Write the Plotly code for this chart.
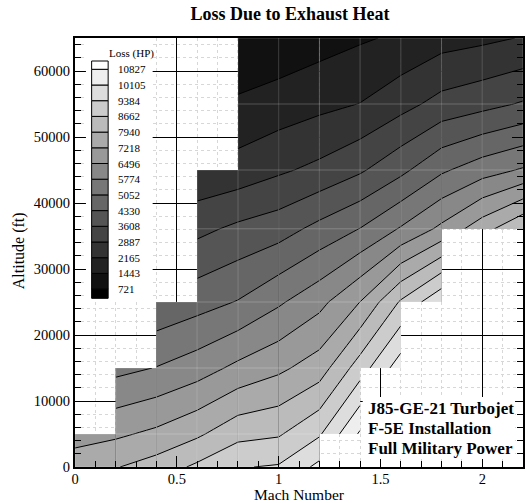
import plotly.graph_objects as go

# ---------------- data ----------------
mach = [0.0, 0.2, 0.4, 0.6, 0.8, 1.0, 1.2, 1.4, 1.6, 1.8, 2.0, 2.2]
alt = [0, 5000, 15000, 25000, 36089, 45000, 55000, 65000]
N = None
# Loss (HP) at grid nodes: rows = altitude, cols = Mach
loss = [
    [7690, 7900, 8263, 8800, 9339, 9450, 10295, N, N, N, N, N],
    [6870, 7090, 7378, 7815, 8440, 8582, 9294, 10930, N, N, N, N],
    [N, 5560, 5800, 6155, 6670, 7065, 7575, 9023, 10500, N, N, N],
    [N, N, 4466, 4762, 5090, 5669, 6283, 7225, 8750, 10000, N, N],
    [N, N, N, 3420, 3760, 4010, 4545, 5070, 5841, 6663, 7645, 8630],
    [N, N, N, 2291, 2457, 2772, 3067, 3508, 4146, 4936, 5454, 5851],
    [N, N, N, N, 1552, 1766, 1980, 2180, 2635, 3133, 3379, 3677],
    [N, N, N, N, 800, 917, 1142, 1359, 1550, 1874, 2013, 2203],
]
# flight envelope for each Mach band (between consecutive Mach nodes)
env_low = [0, 0, 0, 0, 0, 0, 5000, 15000, 25000, 36089, 36089]
env_high = [5000, 15000, 25000, 45000, 65000, 65000, 65000, 65000, 65000, 65000, 65000]
level_labels = ["721", "1443", "2165", "2887", "3608", "4330", "5052", "5774",
                "6496", "7218", "7940", "8662", "9384", "10105", "10827"]
note_lines = ["J85-GE-21 Turbojet", "F-5E Installation", "Full Military Power"]

# ---------------- styling ----------------
FONT = "Liberation Serif"
W, H = 528, 503
L, R, T, B = 75, 3, 38, 36
PW, PH = W - L - R, H - T - B
lev_start, lev_size = 721.4, 721.8
lev_end = lev_start + 14 * lev_size
nbands = len(level_labels) + 1


def px2paper(px, py):
    return (px - L) / PW, (H - B - py) / PH


def gray(k):
    g = round(255 * k / (nbands - 1))
    return f"rgb({g},{g},{g})"


fig = go.Figure()

# filled contour, one trace per Mach band of the envelope
for j in range(len(mach) - 1):
    rows = [i for i, h in enumerate(alt) if env_low[j] <= h <= env_high[j]]
    fig.add_trace(go.Contour(
        x=[mach[j], mach[j + 1]],
        y=[alt[i] for i in rows],
        z=[[loss[i][j], loss[i][j + 1]] for i in rows],
        autocontour=False,
        contours=dict(start=lev_start, end=lev_end, size=lev_size,
                      coloring="fill", showlines=True),
        line=dict(color="black", width=1, smoothing=0),
        colorscale=[[0, "rgb(0,0,0)"], [1, "rgb(255,255,255)"]],
        showscale=False, hoverinfo="skip",
    ))

# mesh lines inside the envelope
mx, my = [], []
for j, m in enumerate(mach):
    bands = [b for b in (j - 1, j) if 0 <= b < len(mach) - 1]
    lo = min(env_low[b] for b in bands)
    hi = max(env_high[b] for b in bands)
    mx += [m, m, None]
    my += [lo, hi, None]
for h in alt:
    bands = [b for b in range(len(mach) - 1) if env_low[b] <= h <= env_high[b]]
    if bands:
        mx += [mach[bands[0]], mach[bands[-1] + 1], None]
        my += [h, h, None]
fig.add_trace(go.Scatter(x=mx, y=my, mode="lines",
                         line=dict(color="rgba(255,255,255,0.22)", width=1),
                         hoverinfo="skip", showlegend=False))

shapes = []
annotations = []

# legend box
lx0, lx1 = 91.7, 108.3
ytop, ybot = 61.0, 298.3
yl15, step = 69.3, 15.7
ylines = {k: yl15 + (15 - k) * step for k in range(1, 16)}
bx0, by0 = px2paper(86, 38)
bx1, by1 = px2paper(153, 301)
shapes.append(dict(type="rect", xref="paper", yref="paper", x0=bx0, x1=bx1,
                   y0=by1, y1=by0, fillcolor="white", line=dict(width=0),
                   layer="above"))
for k in range(nbands):
    top = ytop if k == nbands - 1 else ylines[k + 1]
    bot = ybot if k == 0 else ylines[k]
    x0, y0 = px2paper(lx0, bot)
    x1, y1 = px2paper(lx1, top)
    shapes.append(dict(type="rect", xref="paper", yref="paper", x0=x0, x1=x1,
                       y0=y0, y1=y1, fillcolor=gray(k),
                       line=dict(color="black", width=1), layer="above"))
for k, lab in enumerate(level_labels, start=1):
    ax, ay = px2paper(116, ylines[k])
    annotations.append(dict(text=lab, x=ax, y=ay, xref="paper", yref="paper",
                            xanchor="left", yanchor="middle", showarrow=False,
                            font=dict(family=FONT, size=11, color="black")))
ax, ay = px2paper(107, 54)
annotations.append(dict(text="Loss (HP)", x=ax, y=ay, xref="paper", yref="paper",
                        xanchor="left", yanchor="middle", showarrow=False,
                        font=dict(family=FONT, size=11, color="black")))

# note box
nx0, ny0 = px2paper(364, 397)
nx1, ny1 = px2paper(517, 459)
shapes.append(dict(type="rect", xref="paper", yref="paper", x0=nx0, x1=nx1,
                   y0=ny1, y1=ny0, fillcolor="white", line=dict(width=0),
                   layer="above"))
for i, txt in enumerate(note_lines):
    ax, ay = px2paper(367, 408 + 20 * i)
    annotations.append(dict(text=txt, x=ax, y=ay, xref="paper", yref="paper",
                            xanchor="left", yanchor="middle", showarrow=False,
                            font=dict(family=FONT, size=17, color="black",
                                      weight="bold")))

# axis titles
ax, ay = px2paper(300, 494.5)
annotations.append(dict(text="Mach Number", x=ax, y=ay, xref="paper", yref="paper",
                        xanchor="center", yanchor="middle", showarrow=False,
                        font=dict(family=FONT, size=15.5, color="black")))
ax, ay = px2paper(19, 251)
annotations.append(dict(text="Altitude (ft)", x=ax, y=ay, xref="paper", yref="paper",
                        xanchor="center", yanchor="middle", showarrow=False,
                        textangle=-90,
                        font=dict(family=FONT, size=16, color="black")))

axis_common = dict(
    showline=True, linecolor="black", linewidth=2,
    ticks="inside", ticklen=11, tickwidth=1, tickcolor="black",
    showgrid=True, gridcolor="black", gridwidth=1, zeroline=False,
    tickfont=dict(family=FONT, size=14.5, color="black"),
)

fig.update_layout(
    width=W, height=H,
    margin=dict(l=L, r=R, t=T, b=B),
    paper_bgcolor="white", plot_bgcolor="white",
    showlegend=False,
    title=dict(text="Loss Due to Exhaust Heat", x=290 / W, xanchor="center",
               xref="container", yref="container", y=1 - 14 / H, yanchor="middle",
               font=dict(family=FONT, size=18, color="black", weight="bold")),
    xaxis=dict(range=[0, 2.2], dtick=0.5, tick0=0, mirror=True,
               ticklabelstandoff=-2,
               minor=dict(dtick=0.1, ticks="inside", ticklen=6, tickcolor="black",
                          showgrid=True, gridcolor="rgb(215,215,215)",
                          griddash="dot", gridwidth=1),
               **axis_common),
    yaxis=dict(range=[0, 65000], dtick=10000, tick0=0, tickformat="d",
               mirror="ticks",
               minor=dict(dtick=2000, ticks="inside", ticklen=6, tickcolor="black",
                          showgrid=True, gridcolor="rgb(215,215,215)",
                          griddash="dot", gridwidth=1),
               **axis_common),
    shapes=shapes,
    annotations=annotations,
)

fig.write_html("out.html")
